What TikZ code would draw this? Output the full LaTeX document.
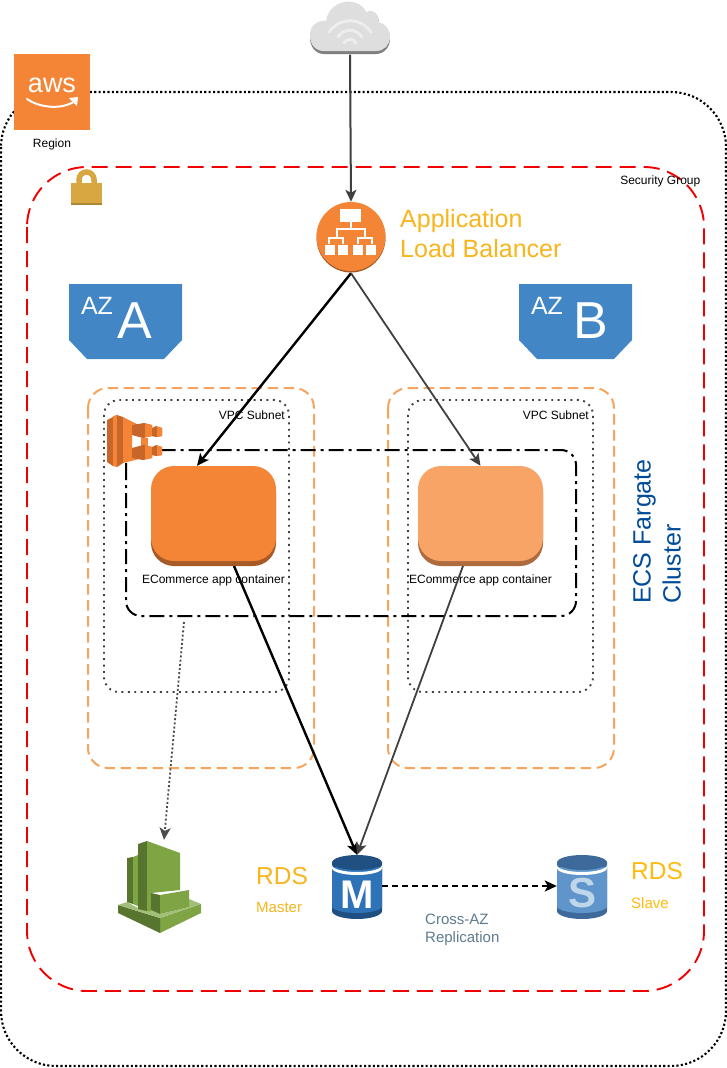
\documentclass[tikz,border=0pt]{standalone}
\usepackage{fontspec}
\setmainfont{Liberation Sans}
\usetikzlibrary{arrows.meta,calc}
\definecolor{awsor}{HTML}{F58536}
\definecolor{awsord}{HTML}{A85A26}
\definecolor{ecsd}{HTML}{C8662A}
\definecolor{orlight}{HTML}{F7A466}
\definecolor{orlightd}{HTML}{AD6B3E}
\definecolor{subor}{HTML}{F5A55F}
\definecolor{azblue}{HTML}{4286C5}
\definecolor{rdsb}{HTML}{2E73B8}
\definecolor{rdsbd}{HTML}{205081}
\definecolor{rdsl}{HTML}{5F95CB}
\definecolor{rdsld}{HTML}{3D6A9A}
\definecolor{amber}{HTML}{F8B51C}
\definecolor{amberb}{HTML}{FFBB0F}
\definecolor{ecsblue}{HTML}{004C99}
\definecolor{slate}{HTML}{5E7C8F}
\definecolor{gold}{HTML}{D9A741}
\definecolor{cwg}{HTML}{7FA443}
\definecolor{cwd}{HTML}{57752F}
\definecolor{cwl}{HTML}{A2BE78}
\tikzset{
 x=1pt,y=-1pt,
 tip/.style={-{Stealth[length=12pt,width=11pt,inset=3pt]}},
 regionbox/.style={draw=black,line width=2.1pt,dash pattern=on 2.1pt off 2.3pt,rounded corners=55pt},
 sgbox/.style={draw=red!95!black,line width=1.9pt,dash pattern=on 16pt off 8pt,rounded corners=60pt},
 subnetbox/.style={draw=subor,line width=2pt,dash pattern=on 10.5pt off 5.5pt,rounded corners=20pt},
 vpcbox/.style={draw=black!75,line width=1.9pt,dash pattern=on 1.9pt off 4.5pt,rounded corners=15pt},
 ecsbox/.style={draw=black,line width=2pt,dash pattern=on 15pt off 5pt on 3pt off 5pt,rounded corners=15pt},
 small/.style={font=\fontsize{12}{14}\selectfont,inner sep=0pt,text=black},
 big/.style={font=\fontsize{25}{30}\selectfont,inner sep=0pt,align=left},
 sub/.style={font=\fontsize{15}{17.5}\selectfont,inner sep=0pt,align=left},
 azlab/.style={text=white,inner sep=0pt},
}
\begin{document}
\begin{tikzpicture}
\useasboundingbox (0,0) rectangle (727,1068);
\fill[white] (0,0) rectangle (727,1068);

% containers
\draw[regionbox] (1,92) rectangle (726,1066);
\draw[sgbox] (27,167) rectangle (704,991);
\draw[subnetbox] (88,388) rectangle (314,768);
\draw[subnetbox] (388,388) rectangle (614,768);
\draw[vpcbox] (104,400) rectangle (289,692);
\draw[vpcbox] (408,400) rectangle (593,692);
\draw[ecsbox] (126,450) rectangle (576,616);
\coordinate (ecsout) at (184,622);

% AWS logo
\fill[awsor] (14,54) rectangle (90,130);
\node[font=\fontsize{27}{27}\selectfont,text=white,inner sep=0pt] (awstxt) at (52,85) {aws};
\draw[white,line width=2pt,line cap=round] (27,99) .. controls (40,108) and (62,110) .. (75,101);
\fill[white] (78,97) -- (69,98) -- (77,106) -- cycle;
\node[small] (region) at (52,144.5) {Region};
\node[small,anchor=east] (sgl) at (700.5,181) {Security Group};

% lock
\draw[gold,line width=5.5pt] (79,184) -- (79,179.5) arc[start angle=180,end angle=0,x radius=7.5,y radius=-7.5] -- (94,184);
\fill[gold] (71,183) rectangle (102,204);
\fill[gold!80!black] (71,203) rectangle (102,205);

% cloud
\node[inner sep=0pt,minimum size=1pt] (cloud) at (350,54) {};
\fill[black!50] (310,37) .. controls (310,27) and (318,22) .. (326,23) .. controls (328,9) and (344,0) .. (356,5) .. controls (362,7) and (364,10) .. (366,14) .. controls (374,10) and (381,19) .. (378,24) .. controls (385,25) and (390,31) .. (390,39) .. controls (390,47) and (384,54) .. (376,54) -- (324,54) .. controls (315,54) and (310,46) .. (310,38) -- cycle;
\fill[black!13] (310,35) .. controls (310,25) and (318,20) .. (326,21) .. controls (328,6) and (344,-2) .. (356,3) .. controls (362,5) and (364,8) .. (366,12) .. controls (374,8) and (381,17) .. (378,22) .. controls (385,23) and (390,29) .. (390,37) .. controls (390,45) and (384,51) .. (376,51) -- (324,51) .. controls (315,51) and (310,44) .. (310,36) -- cycle;
\begin{scope}[line width=3pt,line cap=round,draw=white!93!black]
\draw (329,32) .. controls (340,17) and (360,17) .. (371,32);
\draw (338,37) .. controls (344,28) and (356,28) .. (362,37);
\draw (344,43) .. controls (347,38) and (353,38) .. (356,43);
\end{scope}

% ALB
\fill[awsord] (351,238) circle[radius=34.5];
\fill[awsor] (351,236.5) circle[radius=34.5];
\node[circle,minimum size=71pt,inner sep=0pt] (alb) at (351,237.5) {};
\begin{scope}[white]
\fill (340,209) rectangle (361,222);
\draw[line width=1.2pt] (351,222) -- (351,229) (337,237) -- (337,229) -- (365,229) -- (365,237)
 (329,244) -- (329,238) -- (343,238) -- (343,244) (358,244) -- (358,238) -- (372,238) -- (372,244);
\fill (325,245) rectangle (335,255);
\fill (338,245) rectangle (348,255);
\fill (353,245) rectangle (363,255);
\fill (366,245) rectangle (376,255);
\end{scope}
\node[big,text=amber,anchor=north west] (albl) at (400,209) {Application\\Load Balancer};

% AZ flags
\fill[azblue] (69,284) -- (182,284) -- (182,340) -- (164,359) -- (87,359) -- (69,340) -- cycle;
\fill[azblue] (519,284) -- (632,284) -- (632,340) -- (614,359) -- (537,359) -- (519,340) -- cycle;
\node[azlab,font=\fontsize{25}{25}\selectfont] (aza) at (97,306) {AZ};
\node[azlab,font=\fontsize{52}{52}\selectfont] (azaa) at (135,321) {A};
\node[azlab,font=\fontsize{25}{25}\selectfont] (azb) at (547,306) {AZ};
\node[azlab,font=\fontsize{52}{52}\selectfont] (azbb) at (591,321) {B};

% VPC labels
\node[small,anchor=east] (vpca) at (285,415) {VPC Subnet};
\node[small,anchor=east] (vpcb) at (589,415) {VPC Subnet};

% ECS icon
\fill[ecsd] (107,420) -- (113,417) -- (113,466) -- (107,462) -- cycle;
\fill[awsor] (113,416) -- (117,415) -- (117,467) -- (113,466) -- cycle;
\fill[ecsd] (117,415) -- (123,417) -- (123,463) -- (117,467) -- cycle;
\fill[awsor] (123,417) -- (143,427) -- (143,431) -- (132,430) -- (132,455) -- (143,454) -- (143,458) -- (123,463) -- cycle;
\fill[awsor] (141,438) rectangle (148,447);
\fill[ecsd] (132,425) -- (144,423) -- (152,425) -- (152,436) -- (143,438) -- (132,435) -- cycle;
\fill[awsor] (145,423.5) -- (152,425) -- (152,436) -- (145,437.5) -- cycle;
\fill[ecsd] (132,448) -- (143,445) -- (152,447) -- (152,458) -- (143,460) -- (132,458) -- cycle;
\fill[awsor] (145,445.5) -- (152,447) -- (152,458) -- (145,459.5) -- cycle;
\fill[ecsd] (152,428) -- (156,426) -- (162,428) -- (162,436) -- (156,437) -- (152,436) -- cycle;
\fill[ecsd] (152,447) -- (156,445) -- (162,447) -- (162,455) -- (156,456) -- (152,455) -- cycle;
\fill[awsor] (157,426.5) -- (162,428) -- (162,436) -- (157,437) -- cycle;
\fill[awsor] (157,445.5) -- (162,447) -- (162,455) -- (157,456) -- cycle;

% app containers
\fill[awsord,rounded corners=23pt] (151,470) rectangle (276,566);
\fill[awsor,rounded corners=23pt] (151,466) rectangle (276,561);
\node[minimum width=125pt,minimum height=99pt,inner sep=0pt] (conta) at (213.5,515.5) {};
\fill[orlightd,rounded corners=23pt] (418,470) rectangle (543,566);
\fill[orlight,rounded corners=23pt] (418,466) rectangle (543,561);
\node[minimum width=125pt,minimum height=99pt,inner sep=0pt] (contb) at (480.5,515.5) {};
\node[small] (la) at (213.5,580) {ECommerce app container};
\node[small] (lb) at (480.5,580) {ECommerce app container};

% ECS label
\node[font=\fontsize{25}{30}\selectfont,text=ecsblue,rotate=90,align=left,inner sep=0pt,anchor=north west] (ecsl) at (633,604) {ECS Fargate\\Cluster};

% CloudWatch
\fill[cwg] (160,918) -- (201,904) -- (201,913) -- (160,933) -- cycle;
\fill[cwd] (118,905) -- (160,918) -- (160,933) -- (118,913) -- cycle;
\fill[cwl] (118,905) -- (127,902) -- (138,908) -- (147,910) -- (151,910) -- (160,914) -- (189,907) -- (189,899) -- (201,904) -- (160,918) -- cycle;
\fill[cwd] (127,858) -- (133,857) -- (133,904) -- (127,902) -- cycle;
\fill[cwg] (133,857) -- (138,855) -- (138,906) -- (133,904) -- cycle;
\fill[cwd] (138,844) -- (147,841) -- (147,911) -- (138,909) -- cycle;
\fill[cwg] (147,841) -- (180,853) -- (180,890) -- (151,893) -- (151,911) -- (147,911) -- cycle;
\fill[cwd] (151,893) -- (160,895) -- (160,914) -- (151,910) -- cycle;
\fill[cwg] (160,895) -- (189,890) -- (189,907) -- (160,914) -- cycle;
\node[inner sep=0pt,minimum width=2pt,minimum height=2pt] (cw) at (164,841) {};

% RDS
\fill[rdsbd] (332,862) -- (382,862) -- (382,911) arc[start angle=0,end angle=180,x radius=25,y radius=8] -- cycle;
\fill[rdsb] (332,867) -- (382,867) -- (382,906) arc[start angle=0,end angle=180,x radius=25,y radius=7] -- cycle;
\fill[white] (332,865) arc[start angle=180,end angle=360,x radius=25,y radius=-7] -- (382,868) arc[start angle=0,end angle=-180,x radius=25,y radius=-7] -- cycle;
\fill[rdsbd] (357,862.5) ellipse[x radius=25,y radius=7.5];
\node[font=\bfseries\fontsize{40}{40}\selectfont,text=white,inner sep=0pt] (mtxt) at (357,894.5) {M};
\node[minimum width=50pt,minimum height=64pt,inner sep=0pt] (rdsm) at (357,887) {};
\fill[rdsld] (557,862) -- (607,862) -- (607,911) arc[start angle=0,end angle=180,x radius=25,y radius=8] -- cycle;
\fill[rdsl] (557,867) -- (607,867) -- (607,906) arc[start angle=0,end angle=180,x radius=25,y radius=7] -- cycle;
\fill[white] (557,865) arc[start angle=180,end angle=360,x radius=25,y radius=-7] -- (607,868) arc[start angle=0,end angle=-180,x radius=25,y radius=-7] -- cycle;
\fill[rdsld] (582,862.5) ellipse[x radius=25,y radius=7.5];
\node[font=\bfseries\fontsize{42}{42}\selectfont,text=white!60!rdsl,inner sep=0pt] (stxt) at (582,893) {S};
\node[minimum width=50pt,minimum height=64pt,inner sep=0pt] (rdss) at (582,887) {};
\node[font=\fontsize{24.5}{25}\selectfont,text=amber,inner sep=0pt,anchor=west] (rl) at (256,876) {RDS};
\node[sub,text=amber,anchor=west] (rm) at (256,907) {Master};
\node[font=\fontsize{24.5}{25}\selectfont,text=amberb,inner sep=0pt,anchor=west] (rr) at (631,871) {RDS};
\node[sub,text=amberb,anchor=west] (rs) at (631,903) {Slave};
\node[sub,text=slate,anchor=north west] (cross) at (425,914) {Cross-AZ\\Replication};

% connectors
\draw[black!75,line width=2pt,tip] (cloud.south) -- (alb.north);
\draw[black,line width=2.4pt,tip] (alb.south) -- (conta.north -| 197,466);
\draw[black!75,line width=1.8pt,tip] (alb.south) -- (contb.north);
\draw[black,line width=2.4pt,tip] (234,566) -- (rdsm.north);
\draw[black!75,line width=1.8pt,tip] (463,566) -- (rdsm.north);
\draw[black,line width=2.2pt,dash pattern=on 6pt off 4pt,tip] (rdsm.east |- 0,886) -- (rdss.west |- 0,886);
\draw[black!70,line width=1.8pt,dash pattern=on 2pt off 2.2pt,tip] (ecsout) -- (cw.north);
\end{tikzpicture}
\end{document}
